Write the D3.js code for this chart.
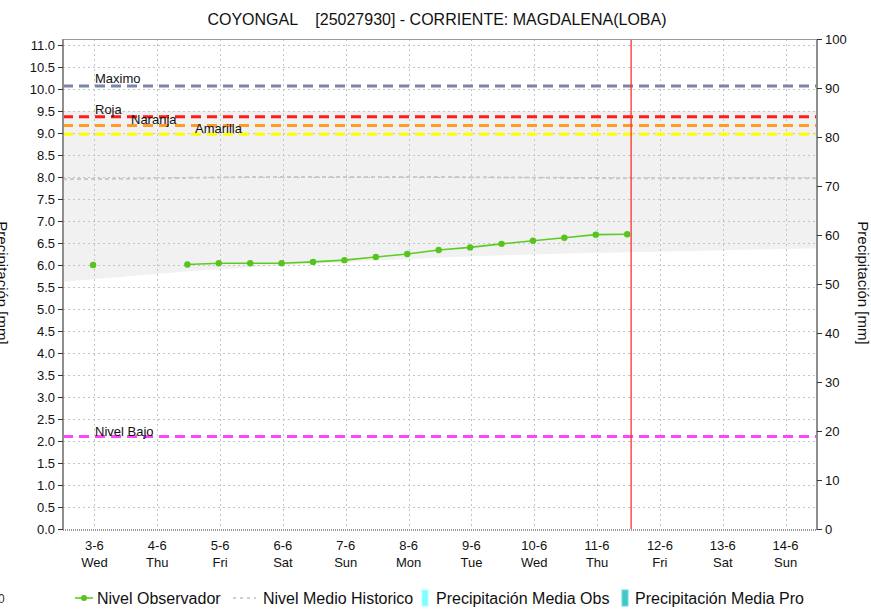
<!DOCTYPE html>
<html>
<head>
<meta charset="utf-8">
<script src="https://cdn.jsdelivr.net/npm/d3@7/dist/d3.min.js"></script>
<style>
  html, body { margin: 0; padding: 0; background: #fff; }
  svg { display: block; font-family: "Liberation Sans", Arial, sans-serif; }
</style>
</head>
<body>
<svg id="chart" width="871" height="613"></svg>
<script>
// ---------- DATA ----------
const titleText = "COYONGAL    [25027930] - CORRIENTE: MAGDALENA(LOBA)";
const dayTicks = ["2020-06-03","2020-06-04","2020-06-05","2020-06-06","2020-06-07","2020-06-08",
                  "2020-06-09","2020-06-10","2020-06-11","2020-06-12","2020-06-13","2020-06-14"];
const dayLabels = ["3-6","4-6","5-6","6-6","7-6","8-6","9-6","10-6","11-6","12-6","13-6","14-6"];
const weekdayLabels = ["Wed","Thu","Fri","Sat","Sun","Mon","Tue","Wed","Thu","Fri","Sat","Sun"];

const obsTimes = ["2020-06-03T11:30","2020-06-03T23:30","2020-06-04T11:30","2020-06-04T23:30",
                  "2020-06-05T11:30","2020-06-05T23:30","2020-06-06T11:30","2020-06-06T23:30",
                  "2020-06-07T11:30","2020-06-07T23:30","2020-06-08T11:30","2020-06-08T23:30",
                  "2020-06-09T11:30","2020-06-09T23:30","2020-06-10T11:30","2020-06-10T23:30",
                  "2020-06-11T11:30","2020-06-11T23:30"];
const obsLevels = [6.00, null, null, 6.01, 6.04, 6.04, 6.04, 6.07, 6.11, 6.18, 6.25, 6.34,
                   6.40, 6.48, 6.55, 6.62, 6.69, 6.70];

const histTimes = ["2020-06-03T00:00","2020-06-04T00:00","2020-06-05T00:00","2020-06-06T00:00",
                   "2020-06-07T00:00","2020-06-08T00:00","2020-06-09T00:00","2020-06-10T00:00",
                   "2020-06-11T00:00","2020-06-12T00:00","2020-06-13T00:00","2020-06-14T00:00",
                   "2020-06-15T00:00"];
const histMean  = [7.95, 7.96, 7.98, 8.00, 8.00, 8.00, 8.00, 7.99, 7.98, 7.97, 7.97, 7.97, 7.97];
const bandLower = [5.62, 5.74, 5.86, 5.95, 6.03, 6.10, 6.17, 6.22, 6.26, 6.29, 6.32, 6.35, 6.38];
const bandUpper = [9.50, 9.50, 9.50, 9.50, 9.50, 9.50, 9.50, 9.50, 9.50, 9.50, 9.50, 9.50, 9.50];

const thresholdNames  = ["Maximo", "Roja", "Naranja", "Amarilla", "Nivel Bajo"];
const thresholdValues = [10.07, 9.37, 9.17, 8.97, 2.10];
const thresholdColors = ["#7c84aa", "#ff1a1a", "#ff9a22", "#ffff00", "#ff44ff"];

const nowTime = "2020-06-12T01:00";
const leftTicks = d3.range(0, 11.01, 0.5);
const rightTicks = d3.range(0, 101, 10);

const legendNames = ["Nivel Observador", "Nivel Medio Historico", "Precipitación Media Obs", "Precipitación Media Pro"];

// ---------- LAYOUT ----------
const L = 63, R = 817, T = 39, B = 529;
const parse = d3.utcParse("%Y-%m-%dT%H:%M");
const parseDay = d3.utcParse("%Y-%m-%d");
const svg = d3.select("#chart");

const x = d3.scaleUtc().domain([parse("2020-06-03T00:00"), parse("2020-06-15T00:00")]).range([L, R]);
const y = d3.scaleLinear().domain([0, 11.136]).range([B, T]);
const y2 = d3.scaleLinear().domain([0, 100]).range([B, T]);

const noon = dayTicks.map(d => d3.utcHour.offset(parseDay(d), 12));

// band
const band = histTimes.map((t, i) => ({t: parse(t), lo: bandLower[i], hi: bandUpper[i], m: histMean[i]}));
svg.append("path").datum(band)
  .attr("fill", "#f1f1f1")
  .attr("d", d3.area().x(d => x(d.t)).y0(d => y(d.lo)).y1(d => y(d.hi)));

// grid
const grid = svg.append("g").attr("stroke", "#c4c4c4").attr("stroke-width", 1).attr("stroke-dasharray", "2,3");
grid.selectAll("line.h").data(leftTicks.filter(v => v > 0)).join("line")
  .attr("x1", L).attr("x2", R).attr("y1", d => Math.round(y(d)) + 0.5).attr("y2", d => Math.round(y(d)) + 0.5);
grid.selectAll("line.v").data(noon).join("line")
  .attr("y1", T).attr("y2", B).attr("x1", d => Math.round(x(d)) + 0.5).attr("x2", d => Math.round(x(d)) + 0.5);

// historic mean line
svg.append("path").datum(band)
  .attr("fill", "none").attr("stroke", "#c9c9c9").attr("stroke-width", 2).attr("stroke-dasharray", "4,3")
  .attr("d", d3.line().x(d => x(d.t)).y(d => y(d.m)));

// thresholds
thresholdValues.forEach((v, i) => {
  svg.append("line")
    .attr("x1", L).attr("x2", R).attr("y1", y(v)).attr("y2", y(v))
    .attr("stroke", thresholdColors[i]).attr("stroke-width", 3).attr("stroke-dasharray", "10,6");
});
const labelPos = [[95, 83], [95, 114], [131, 124], [195, 133], [95, 436]];
thresholdNames.forEach((n, i) => {
  svg.append("text").attr("x", labelPos[i][0]).attr("y", labelPos[i][1])
    .attr("font-size", 13).attr("fill", "#111").text(n);
});

// observed line
const obs = obsTimes.map((t, i) => ({t: parse(t), v: obsLevels[i]}));
svg.append("path").datum(obs)
  .attr("fill", "none").attr("stroke", "#5ccc22").attr("stroke-width", 1.6)
  .attr("d", d3.line().defined(d => d.v != null).x(d => x(d.t)).y(d => y(d.v)));
svg.selectAll("circle.obs").data(obs.filter(d => d.v != null)).join("circle")
  .attr("cx", d => x(d.t)).attr("cy", d => y(d.v)).attr("r", 3.2).attr("fill", "#55c41c");

// now line
svg.append("line").attr("x1", x(parse(nowTime))).attr("x2", x(parse(nowTime)))
  .attr("y1", T).attr("y2", B).attr("stroke", "#ff3030").attr("stroke-width", 1.3);

// frame
svg.append("line").attr("x1", L).attr("x2", R).attr("y1", T + 0.5).attr("y2", T + 0.5).attr("stroke", "#9a9a9a").attr("stroke-width", 1);
svg.append("line").attr("x1", L).attr("x2", R).attr("y1", B + 1).attr("y2", B + 1).attr("stroke", "#333").attr("stroke-width", 1.2).attr("stroke-dasharray", "1,1");

// left axis
const gl = svg.append("g").attr("transform", `translate(${L},0)`)
  .call(d3.axisLeft(y).tickValues(leftTicks).tickFormat(d3.format(".1f")).tickSize(5).tickPadding(3));
gl.select(".domain").attr("stroke", "#8f8f8f").attr("stroke-width", 2).attr("d", `M0,${T}V${B + 1}`);
gl.selectAll(".tick line").attr("stroke", "#333");
gl.selectAll(".tick text").attr("font-size", 13).attr("fill", "#111").attr("font-family", "Liberation Sans, Arial, sans-serif");

// right axis
const gr = svg.append("g").attr("transform", `translate(${R},0)`)
  .call(d3.axisRight(y2).tickValues(rightTicks).tickSize(5).tickPadding(3));
gr.select(".domain").attr("stroke", "#8f8f8f").attr("stroke-width", 2).attr("d", `M0,${T}V${B + 1}`);
gr.selectAll(".tick line").attr("stroke", "#333");
gr.selectAll(".tick text").attr("font-size", 13).attr("fill", "#111").attr("font-family", "Liberation Sans, Arial, sans-serif");

// x labels
const gx = svg.append("g");
noon.forEach((d, i) => {
  gx.append("text").attr("x", x(d)).attr("y", 550).attr("text-anchor", "middle").attr("font-size", 13).attr("fill", "#111").text(dayLabels[i]);
  gx.append("text").attr("x", x(d)).attr("y", 567).attr("text-anchor", "middle").attr("font-size", 13).attr("fill", "#111").text(weekdayLabels[i]);
});

// title
svg.append("text").attr("x", 437).attr("y", 25).attr("text-anchor", "middle")
  .attr("font-size", 16).attr("fill", "#111").style("white-space", "pre").text(titleText);

// axis titles
svg.append("text").attr("transform", "translate(858,283) rotate(90)").attr("text-anchor", "middle")
  .attr("font-size", 15).attr("fill", "#111").text("Precipitación [mm]");
svg.append("text").attr("transform", "translate(-3,283) rotate(90)").attr("text-anchor", "middle")
  .attr("font-size", 15).attr("fill", "#111").text("Precipitación [mm]");

// legend
const ly = 598;
const lg = svg.append("g").attr("font-size", 16).attr("fill", "#111");
lg.append("line").attr("x1", 75).attr("x2", 93).attr("y1", ly).attr("y2", ly).attr("stroke", "#5ccc22").attr("stroke-width", 1.6);
lg.append("circle").attr("cx", 84).attr("cy", ly).attr("r", 3).attr("fill", "#55c41c");
lg.append("text").attr("x", 97).attr("y", ly + 6).text(legendNames[0]);
lg.append("line").attr("x1", 233).attr("x2", 256).attr("y1", ly).attr("y2", ly).attr("stroke", "#d0d0d0").attr("stroke-width", 2).attr("stroke-dasharray", "3,4");
lg.append("text").attr("x", 263).attr("y", ly + 6).text(legendNames[1]);
lg.append("rect").attr("x", 422).attr("y", 590).attr("width", 6).attr("height", 16).attr("fill", "#80ffff").attr("stroke", "#b0ffff");
lg.append("text").attr("x", 436).attr("y", ly + 6).text(legendNames[2]);
lg.append("rect").attr("x", 622).attr("y", 590).attr("width", 6).attr("height", 16).attr("fill", "#40c8c8").attr("stroke", "#70d8d8");
lg.append("text").attr("x", 635).attr("y", ly + 6).text(legendNames[3]);
svg.append("text").attr("x", -2).attr("y", 603).attr("font-size", 12).attr("fill", "#333").text("0");
</script>
</body>
</html>
